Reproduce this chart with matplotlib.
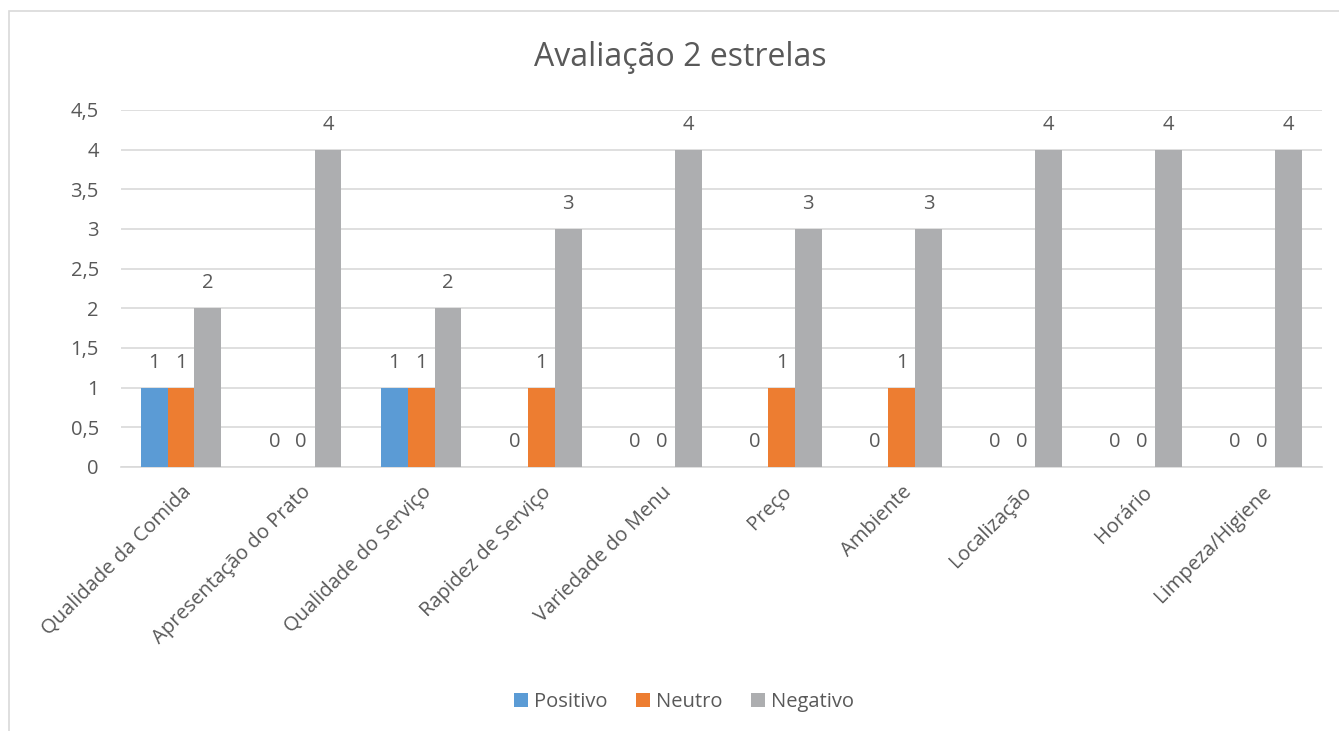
import numpy as np
import matplotlib
matplotlib.use("Agg")
from matplotlib import pyplot as plt
from matplotlib.patches import Rectangle

plt.rcParams['font.family'] = ['Open Sans', 'DejaVu Sans']

categories = ['Qualidade da Comida', 'Apresentação do Prato', 'Qualidade do Serviço',
              'Rapidez de Serviço', 'Variedade do Menu', 'Preço', 'Ambiente',
              'Localização', 'Horário', 'Limpeza/Higiene']
positivo = [1, 0, 1, 0, 0, 0, 0, 0, 0, 0]
neutro = [1, 0, 1, 1, 0, 1, 1, 0, 0, 0]
negativo = [2, 4, 2, 3, 4, 3, 3, 4, 4, 4]
series = [('Positivo', positivo, '#5B9BD5'),
          ('Neutro', neutro, '#ED7D31'),
          ('Negativo', negativo, '#ADAEB0')]
yticks = [0, 0.5, 1, 1.5, 2, 2.5, 3, 3.5, 4, 4.5]

TEXT = '#595959'
GRID = '#D9D9D9'

fig = plt.figure(figsize=(13.39, 7.31), dpi=100)
ax = fig.add_axes([121 / 1339, 1 - 467 / 731, 1201 / 1339, 357 / 731])

# chart frame
fig.patches.append(Rectangle((9 / 1339, -0.1), 1.2, 1 - 11 / 731 + 0.1,
                             transform=fig.transFigure, fill=False,
                             edgecolor=GRID, linewidth=1.2))

x = np.arange(len(categories))
w = 0.223
for i, (name, vals, col) in enumerate(series):
    pos = x + (i - 1) * w
    bars = ax.bar(pos, vals, w, color=col, label=name, zorder=3)
    for b, v in zip(bars, vals):
        ax.annotate(str(v), (b.get_x() + b.get_width() / 2, v),
                    xytext=(0, 18), textcoords='offset points',
                    ha='center', va='center', fontsize=14.5, color=TEXT)

ax.set_xlim(-0.5, len(categories) - 0.5)
ax.set_ylim(0, 4.5)
ax.set_yticks(yticks)
ax.set_yticklabels([('%g' % t).replace('.', ',') for t in yticks])
ax.yaxis.grid(True, color=GRID, linewidth=1.2, zorder=0)
ax.set_axisbelow(True)
for s in ['top', 'right', 'left']:
    ax.spines[s].set_visible(False)
ax.spines['bottom'].set_color(GRID)
ax.spines['bottom'].set_linewidth(1.2)
ax.tick_params(axis='both', length=0, colors=TEXT, labelsize=14.5)
ax.tick_params(axis='y', pad=16)
ax.set_xticks(x)
ax.set_xticklabels(categories, rotation=45, ha='right', rotation_mode='anchor')
ax.tick_params(axis='x', pad=11)

fig.text(0.508, 1 - 58 / 731, 'Avaliação 2 estrelas', ha='center', va='center',
         fontsize=23, color=TEXT)

fig.legend(loc='center', bbox_to_anchor=(0.511, 1 - 702 / 731), ncol=3,
           frameon=False, fontsize=14.5, labelcolor=TEXT, handlelength=0.7,
           handleheight=0.7, handletextpad=0.3, columnspacing=1.4)

fig.savefig('out.png', dpi=100)
